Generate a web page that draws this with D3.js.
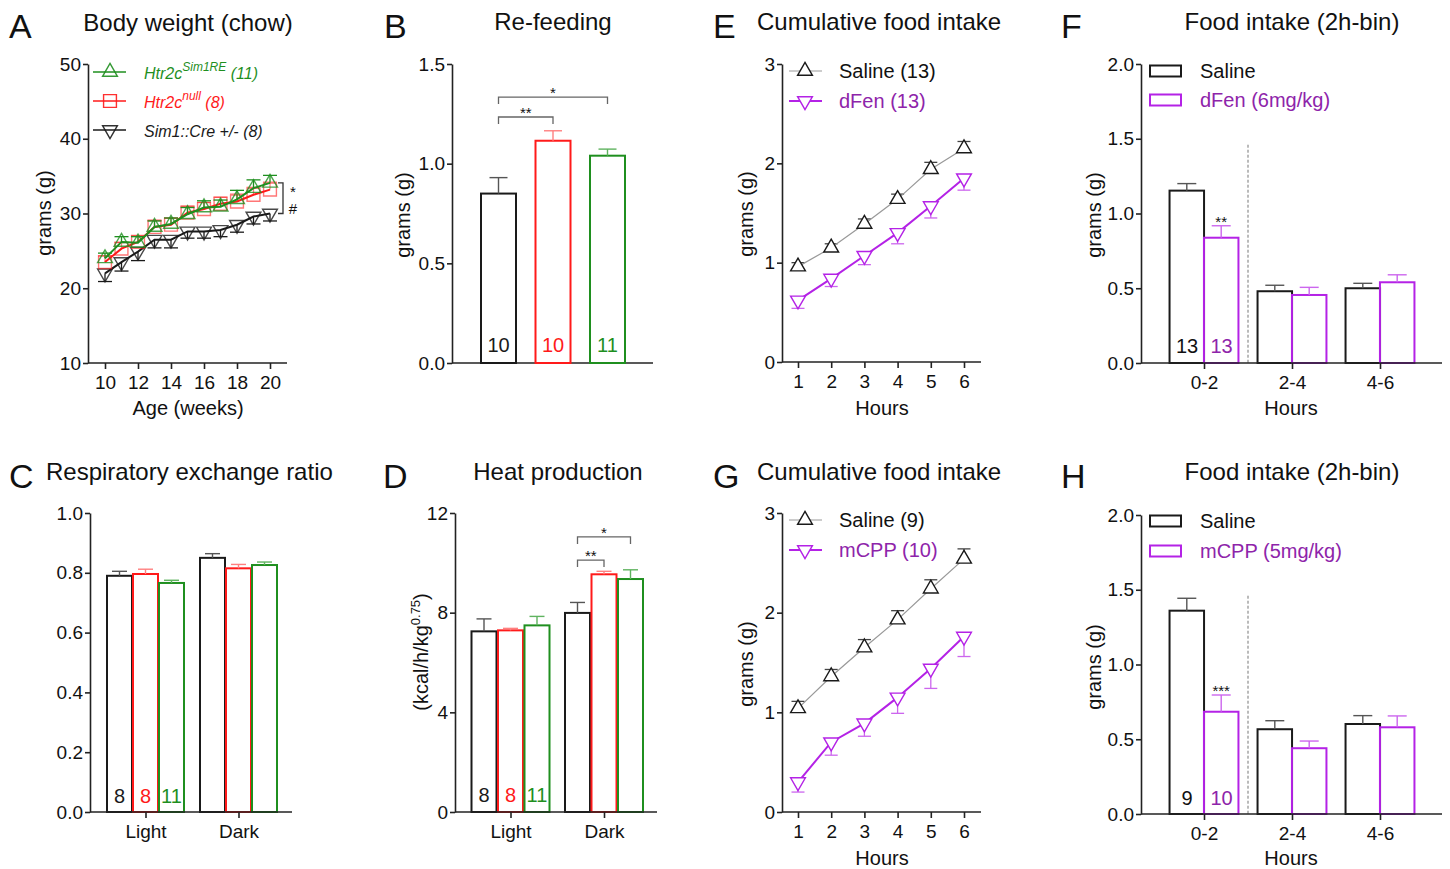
<!DOCTYPE html>
<html>
<head>
<meta charset="utf-8">
<script src="https://cdn.jsdelivr.net/npm/d3@7"></script>
<style>
  body { margin: 0; background: #fff; }
  svg { display: block; }
</style>
</head>
<body>
<svg id="fig" width="1450" height="869"></svg>
<script>
// ---- data ----
// A: body weight (g) by age
const weeks = [10, 11, 12, 13, 14, 15, 16, 17, 18, 19, 20];
const bwSim1RE = [24.0, 26.2, 26.1, 28.2, 28.6, 29.9, 30.8, 30.9, 31.9, 33.4, 34.1];
const bwSim1REErr = [0.7, 0.7, 0.8, 0.8, 0.8, 0.9, 0.9, 0.9, 1.2, 1.1, 1.0];
const bwNull = [23.5, 25.3, 26.2, 28.2, 28.5, 30.1, 30.6, 31.3, 31.6, 32.5, 33.2];
const bwNullErr = [0.8, 0.8, 0.8, 0.9, 0.9, 0.9, 0.9, 0.9, 1.0, 1.0, 1.0];
const bwCre = [22.0, 23.5, 24.9, 26.5, 26.5, 27.6, 27.6, 27.8, 28.5, 29.6, 30.0];
const bwCreErr = [1.1, 1.2, 1.2, 1.1, 1.1, 0.9, 0.9, 0.9, 1.0, 1.0, 1.0];

// B: re-feeding (g)
const genotypes = ['Sim1::Cre', 'Htr2c null', 'Htr2c Sim1RE'];
const refeedMean = [0.85, 1.115, 1.04];
const refeedErr = [0.08, 0.05, 0.033];
const refeedN = ['10', '10', '11'];

// C, D: light / dark phase
const phases = ['Light', 'Dark'];
const rerCre = [0.79, 0.85];
const rerCreErr = [0.015, 0.014];
const rerNull = [0.796, 0.815];
const rerNullErr = [0.016, 0.013];
const rerSim1RE = [0.766, 0.826];
const rerSim1REErr = [0.009, 0.01];
const heatCre = [7.25, 7.99];
const heatCreErr = [0.5, 0.42];
const heatNull = [7.29, 9.54];
const heatNullErr = [0.08, 0.12];
const heatSim1RE = [7.49, 9.35];
const heatSim1REErr = [0.36, 0.37];
const metabN = ['8', '8', '11'];

// E, G: cumulative food intake (g)
const hours = [1, 2, 3, 4, 5, 6];
const eSaline = [0.96, 1.15, 1.39, 1.64, 1.94, 2.15];
const eSalineErr = [0.04, 0.04, 0.05, 0.05, 0.07, 0.07];
const eDfen = [0.62, 0.84, 1.07, 1.30, 1.57, 1.85];
const eDfenErr = [0.08, 0.08, 0.09, 0.11, 0.12, 0.12];
const gSaline = [1.04, 1.36, 1.65, 1.93, 2.24, 2.54];
const gSalineErr = [0.07, 0.07, 0.08, 0.09, 0.09, 0.10];
const gMcpp = [0.30, 0.70, 0.89, 1.15, 1.44, 1.76];
const gMcppErr = [0.10, 0.13, 0.13, 0.16, 0.20, 0.20];

// F, H: 2h-bin food intake (g)
const bins = ['0-2', '2-4', '4-6'];
const fSaline = [1.153, 0.48, 0.50];
const fSalineErr = [0.047, 0.04, 0.033];
const fDfen = [0.838, 0.455, 0.54];
const fDfenErr = [0.08, 0.051, 0.05];
const hSaline = [1.36, 0.567, 0.602];
const hSalineErr = [0.083, 0.057, 0.056];
const hMcpp = [0.684, 0.44, 0.58];
const hMcppErr = [0.112, 0.048, 0.076];

// ---- styling ----
const FONT = '"Liberation Sans", Arial, sans-serif';
const BLACK = '#1a1a1a', RED = '#ff1a1a', GREEN = '#1f8f1f', PURPLE = '#b422e6', PURPLE_TXT = '#8e24aa';
const ERR = {black: '#555', red: '#ff8080', green: '#5fb35f', purple: '#cc66ee'};

const svg = d3.select('#fig').attr('font-family', FONT);
svg.append('rect').attr('width', 1450).attr('height', 869).attr('fill', '#fff');

function text(x, y, str, size, opt = {}) {
  return svg.append('text')
    .attr('x', x).attr('y', y)
    .attr('font-size', size)
    .attr('text-anchor', opt.anchor || 'start')
    .attr('font-style', opt.italic ? 'italic' : null)
    .attr('fill', opt.fill || '#111')
    .text(str);
}

function yTitle(x, y, str) {
  return svg.append('text')
    .attr('transform', `translate(${x},${y}) rotate(-90)`)
    .attr('text-anchor', 'middle').attr('font-size', 20).attr('fill', '#111')
    .text(str);
}

function styleAxis(g) {
  g.attr('font-family', FONT).attr('font-size', 19);
  g.selectAll('path, line').attr('stroke', '#222').attr('stroke-width', 1.6);
  g.selectAll('text').attr('fill', '#111');
}

function yAxis(scale, x, ticks, fmt) {
  const g = svg.append('g').attr('transform', `translate(${x},0)`)
    .call(d3.axisLeft(scale).tickValues(ticks).tickFormat(fmt).tickSize(5).tickSizeOuter(0).tickPadding(2));
  styleAxis(g);
}

function xAxis(scale, y, x0, x1, ticks, fmt) {
  svg.append('line').attr('x1', x0).attr('x2', x1).attr('y1', y).attr('y2', y)
    .attr('stroke', '#222').attr('stroke-width', 1.6);
  if (!ticks) return;
  const g = svg.append('g').attr('transform', `translate(0,${y})`)
    .call(d3.axisBottom(scale).tickValues(ticks).tickFormat(fmt).tickSize(6).tickPadding(7));
  g.select('.domain').remove();
  styleAxis(g);
}

const symTri = d3.symbol(d3.symbolTriangle, 95)();
const symSq = d3.symbol(d3.symbolSquare, 165)();

function marker(g, x, y, type, color, fill, opacity) {
  g.append('path')
    .attr('d', type === 'square' ? symSq : symTri)
    .attr('transform', `translate(${x},${y})` + (type === 'down' ? ' rotate(180)' : ''))
    .attr('fill', fill).attr('stroke', color).attr('stroke-width', 1.4)
    .attr('stroke-opacity', opacity || 1);
}

// line series with one-sided error bars (dir = +1 up, -1 down)
function lineSeries(sx, sy, xs, vals, errs, o) {
  const g = svg.append('g');
  vals.forEach((v, i) => {
    const x = sx(xs[i]), y0 = sy(v), y1 = sy(v + o.dir * errs[i]);
    g.append('line').attr('x1', x).attr('x2', x).attr('y1', y0).attr('y2', y1)
      .attr('stroke', o.errColor).attr('stroke-width', 1.3);
    g.append('line').attr('x1', x - o.cap / 2).attr('x2', x + o.cap / 2).attr('y1', y1).attr('y2', y1)
      .attr('stroke', o.errColor).attr('stroke-width', 1.3);
  });
  g.append('path').datum(vals)
    .attr('d', d3.line().x((d, i) => sx(xs[i])).y(d => sy(d)))
    .attr('fill', 'none').attr('stroke', o.lineColor).attr('stroke-width', o.lineWidth);
  vals.forEach((v, i) => marker(g, sx(xs[i]), sy(v), o.type, o.color, o.fill, o.opacity));
}

// open bars with upward error bars
function bars(sx, sy, cats, vals, errs, offset, width, color, errColor, cap) {
  const g = svg.append('g');
  g.selectAll('rect').data(vals).join('rect')
    .attr('x', (d, i) => sx(cats[i]) + offset - width / 2)
    .attr('y', d => sy(d))
    .attr('width', width)
    .attr('height', d => sy(0) - sy(d))
    .attr('fill', 'none').attr('stroke', color).attr('stroke-width', 2);
  g.selectAll('line.e').data(vals).join('line').attr('class', 'e')
    .attr('x1', (d, i) => sx(cats[i]) + offset).attr('x2', (d, i) => sx(cats[i]) + offset)
    .attr('y1', d => sy(d)).attr('y2', (d, i) => sy(d + errs[i]))
    .attr('stroke', errColor).attr('stroke-width', 1.4);
  g.selectAll('line.c').data(vals).join('line').attr('class', 'c')
    .attr('x1', (d, i) => sx(cats[i]) + offset - cap / 2).attr('x2', (d, i) => sx(cats[i]) + offset + cap / 2)
    .attr('y1', (d, i) => sy(d + errs[i])).attr('y2', (d, i) => sy(d + errs[i]))
    .attr('stroke', errColor).attr('stroke-width', 1.4);
}

function sigBracket(x1, x2, y, label) {
  svg.append('path').attr('d', `M${x1},${y + 7}V${y}H${x2}V${y + 7}`)
    .attr('fill', 'none').attr('stroke', '#666').attr('stroke-width', 1.3);
  text((x1 + x2) / 2, y + 1, label, 15, {anchor: 'middle'});
}

// ---------------- A ----------------
text(9, 38, 'A', 34);
text(188, 31, 'Body weight (chow)', 24, {anchor: 'middle'});
const ax = d3.scaleLinear().domain([10, 20]).range([105, 270]);
const ay = d3.scaleLinear().domain([10, 50]).range([363, 64]);
yAxis(ay, 88, [10, 20, 30, 40, 50], d3.format('d'));
xAxis(ax, 363, 88, 287, [10, 12, 14, 16, 18, 20], d3.format('d'));
text(188, 415, 'Age (weeks)', 20, {anchor: 'middle'});
yTitle(51, 213, 'grams (g)');
lineSeries(ax, ay, weeks, bwCre, bwCreErr, {dir: -1, cap: 14, errColor: BLACK, lineColor: BLACK, lineWidth: 2, type: 'down', color: BLACK, fill: 'none', opacity: 0.8});
lineSeries(ax, ay, weeks, bwNull, bwNullErr, {dir: 1, cap: 14, errColor: ERR.red, lineColor: RED, lineWidth: 2, type: 'square', color: RED, fill: 'none', opacity: 0.6});
lineSeries(ax, ay, weeks, bwSim1RE, bwSim1REErr, {dir: 1, cap: 14, errColor: GREEN, lineColor: GREEN, lineWidth: 2, type: 'up', color: GREEN, fill: 'none', opacity: 0.8});
// legend A
const legA = [
  {y: 72, color: GREEN, type: 'up', main: 'Htr2c', sup: 'Sim1RE', tail: ' (11)'},
  {y: 101, color: RED, type: 'square', main: 'Htr2c', sup: 'null', tail: ' (8)'},
  {y: 130, color: BLACK, type: 'down', main: 'Sim1::Cre +/- (8)', sup: '', tail: ''}
];
legA.forEach(l => {
  svg.append('line').attr('x1', 93).attr('x2', 126).attr('y1', l.y).attr('y2', l.y)
    .attr('stroke', l.color).attr('stroke-width', 1.6);
  marker(svg, 110, l.y, l.type, l.color, 'none', 0.9);
  const t = svg.append('text').attr('x', 144).attr('y', l.y + 7).attr('font-size', 16)
    .attr('font-style', 'italic').attr('fill', l.color);
  t.append('tspan').text(l.main);
  if (l.sup) {
    t.append('tspan').attr('dy', -8).attr('font-size', 12).text(l.sup);
    t.append('tspan').attr('dy', 8).text(l.tail);
  }
});
svg.append('path').attr('d', `M278,${ay(34.1)}H283V${ay(30)}H278`)
  .attr('fill', 'none').attr('stroke', '#333').attr('stroke-width', 1.3);
text(293, 197, '*', 15, {anchor: 'middle'});
text(293, 214, '#', 15, {anchor: 'middle'});

// ---------------- B ----------------
text(384, 38, 'B', 34);
text(553, 30, 'Re-feeding', 24, {anchor: 'middle'});
const bx = d3.scalePoint().domain(genotypes).range([498.5, 607.5]);
const by = d3.scaleLinear().domain([0, 1.5]).range([363, 64]);
yAxis(by, 452, [0, 0.5, 1.0, 1.5], d3.format('.1f'));
xAxis(bx, 363, 452, 653, null);
yTitle(410, 215, 'grams (g)');
const bColors = [BLACK, RED, GREEN];
const bErrColors = [ERR.black, ERR.red, ERR.green];
genotypes.forEach((c, i) => {
  bars(bx, by, [c], [refeedMean[i]], [refeedErr[i]], 0, 35, bColors[i], bErrColors[i], 18);
  text(bx(c), 352, refeedN[i], 20, {anchor: 'middle', fill: bColors[i]});
});
sigBracket(bx(genotypes[0]), bx(genotypes[1]), by(1.234), '**');
sigBracket(bx(genotypes[0]), bx(genotypes[2]), by(1.334), '*');

// ---------------- E ----------------
text(713, 38, 'E', 34);
text(757, 30, 'Cumulative food intake', 24);
const ex = d3.scaleLinear().domain([1, 6]).range([798, 964]);
const ey = d3.scaleLinear().domain([0, 3]).range([362, 64]);
yAxis(ey, 782, [0, 1, 2, 3], d3.format('d'));
xAxis(ex, 362, 782, 981, hours, d3.format('d'));
text(882, 415, 'Hours', 20, {anchor: 'middle'});
yTitle(753, 214, 'grams (g)');
lineSeries(ex, ey, hours, eSaline, eSalineErr, {dir: 1, cap: 13, errColor: '#444', lineColor: '#999', lineWidth: 1.2, type: 'up', color: BLACK, fill: '#fff'});
lineSeries(ex, ey, hours, eDfen, eDfenErr, {dir: -1, cap: 13, errColor: ERR.purple, lineColor: PURPLE, lineWidth: 2, type: 'down', color: PURPLE, fill: '#fff'});
function lineLegend(y, type, lineColor, lineWidth, color, label, txtColor) {
  svg.append('line').attr('x1', 789).attr('x2', 822).attr('y1', y).attr('y2', y)
    .attr('stroke', lineColor).attr('stroke-width', lineWidth);
  marker(svg, 805, y, type, color, '#fff');
  text(839, y + 7, label, 20, {fill: txtColor});
}
lineLegend(71, 'up', '#999', 1.2, BLACK, 'Saline (13)', '#111');
lineLegend(101, 'down', PURPLE, 2, PURPLE, 'dFen (13)', PURPLE_TXT);

// ---------------- F ----------------
text(1061, 38, 'F', 34);
text(1292, 30, 'Food intake (2h-bin)', 24, {anchor: 'middle'});
const fx = d3.scalePoint().domain(bins).range([1204, 1380]);
const fy = d3.scaleLinear().domain([0, 2]).range([363, 64]);
yAxis(fy, 1141, [0, 0.5, 1.0, 1.5, 2.0], d3.format('.1f'));
yTitle(1101, 215, 'grams (g)');
svg.append('line').attr('x1', (fx('0-2') + fx('2-4')) / 2).attr('x2', (fx('0-2') + fx('2-4')) / 2)
  .attr('y1', fy(1.46)).attr('y2', fy(0)).attr('stroke', '#777').attr('stroke-width', 1).attr('stroke-dasharray', '3,2');
bars(fx, fy, bins, fSaline, fSalineErr, -17.2, 34.5, BLACK, ERR.black, 19);
bars(fx, fy, bins, fDfen, fDfenErr, 17.2, 34.5, PURPLE, ERR.purple, 19);
xAxis(fx, 363, 1141, 1442, bins, d => d);
text(1291, 415, 'Hours', 20, {anchor: 'middle'});
text(fx('0-2') - 17, 353, '13', 20, {anchor: 'middle'});
text(fx('0-2') + 17.5, 353, '13', 20, {anchor: 'middle', fill: PURPLE_TXT});
text(fx('0-2') + 17.2, fy(fDfen[0] + fDfenErr[0]) + 1, '**', 15, {anchor: 'middle'});
function barLegend(y, color, label, txtColor) {
  svg.append('rect').attr('x', 1150).attr('y', y - 5.5).attr('width', 31).attr('height', 11)
    .attr('fill', 'none').attr('stroke', color).attr('stroke-width', 2);
  text(1200, y + 7, label, 20, {fill: txtColor});
}
barLegend(71, BLACK, 'Saline', '#111');
barLegend(100, PURPLE, 'dFen (6mg/kg)', PURPLE_TXT);

// ---------------- C ----------------
text(9, 488, 'C', 34);
text(46, 480, 'Respiratory exchange ratio', 24);
const cx = d3.scalePoint().domain(phases).range([145.5, 238.5]);
const cy = d3.scaleLinear().domain([0, 1]).range([812, 513]);
yAxis(cy, 90, [0, 0.2, 0.4, 0.6, 0.8, 1.0], d3.format('.1f'));
bars(cx, cy, phases, rerCre, rerCreErr, -26, 25, BLACK, ERR.black, 15);
bars(cx, cy, phases, rerNull, rerNullErr, 0, 25, RED, ERR.red, 15);
bars(cx, cy, phases, rerSim1RE, rerSim1REErr, 26, 25, GREEN, ERR.green, 15);
xAxis(cx, 812, 90, 292, phases, d => d);
[-26, 0, 26].forEach((o, i) => text(cx('Light') + o, 803, metabN[i], 20, {anchor: 'middle', fill: bColors[i]}));

// ---------------- D ----------------
text(383, 488, 'D', 34);
text(558, 480, 'Heat production', 24, {anchor: 'middle'});
const dx = d3.scalePoint().domain(phases).range([510.5, 604]);
const dy = d3.scaleLinear().domain([0, 12]).range([812, 513]);
yAxis(dy, 455, [0, 4, 8, 12], d3.format('d'));
bars(dx, dy, phases, heatCre, heatCreErr, -26.5, 25, BLACK, ERR.black, 15);
bars(dx, dy, phases, heatNull, heatNullErr, 0, 25, RED, ERR.red, 15);
bars(dx, dy, phases, heatSim1RE, heatSim1REErr, 26.5, 25, GREEN, ERR.green, 15);
xAxis(dx, 812, 455, 657, phases, d => d);
[-26.5, 0, 26.5].forEach((o, i) => text(dx('Light') + o, 802, metabN[i], 20, {anchor: 'middle', fill: bColors[i]}));
sigBracket(dx('Dark') - 26.5, dx('Dark'), dy(10.11), '**');
sigBracket(dx('Dark') - 26.5, dx('Dark') + 26.5, dy(11.04), '*');
const dLab = svg.append('text').attr('transform', 'translate(428,652) rotate(-90)')
  .attr('text-anchor', 'middle').attr('font-size', 20).attr('fill', '#111');
dLab.append('tspan').text('(kcal/h/kg');
dLab.append('tspan').attr('dy', -8).attr('font-size', 13).text('0.75');
dLab.append('tspan').attr('dy', 8).text(')');

// ---------------- G ----------------
text(713, 488, 'G', 34);
text(757, 480, 'Cumulative food intake', 24);
const gx = d3.scaleLinear().domain([1, 6]).range([798, 964]);
const gy = d3.scaleLinear().domain([0, 3]).range([812, 513]);
yAxis(gy, 782, [0, 1, 2, 3], d3.format('d'));
xAxis(gx, 812, 782, 981, hours, d3.format('d'));
text(882, 865, 'Hours', 20, {anchor: 'middle'});
yTitle(753, 664, 'grams (g)');
lineSeries(gx, gy, hours, gSaline, gSalineErr, {dir: 1, cap: 13, errColor: '#444', lineColor: '#999', lineWidth: 1.2, type: 'up', color: BLACK, fill: '#fff'});
lineSeries(gx, gy, hours, gMcpp, gMcppErr, {dir: -1, cap: 13, errColor: ERR.purple, lineColor: PURPLE, lineWidth: 2, type: 'down', color: PURPLE, fill: '#fff'});
lineLegend(520, 'up', '#999', 1.2, BLACK, 'Saline (9)', '#111');
lineLegend(550, 'down', PURPLE, 2, PURPLE, 'mCPP (10)', PURPLE_TXT);

// ---------------- H ----------------
text(1061, 488, 'H', 34);
text(1292, 480, 'Food intake (2h-bin)', 24, {anchor: 'middle'});
const hx = d3.scalePoint().domain(bins).range([1204, 1380]);
const hy = d3.scaleLinear().domain([0, 2]).range([814, 515]);
yAxis(hy, 1141, [0, 0.5, 1.0, 1.5, 2.0], d3.format('.1f'));
yTitle(1101, 667, 'grams (g)');
svg.append('line').attr('x1', (hx('0-2') + hx('2-4')) / 2).attr('x2', (hx('0-2') + hx('2-4')) / 2)
  .attr('y1', hy(1.46)).attr('y2', hy(0)).attr('stroke', '#777').attr('stroke-width', 1).attr('stroke-dasharray', '3,2');
bars(hx, hy, bins, hSaline, hSalineErr, -17.2, 34.5, BLACK, ERR.black, 19);
bars(hx, hy, bins, hMcpp, hMcppErr, 17.2, 34.5, PURPLE, ERR.purple, 19);
xAxis(hx, 814, 1141, 1442, bins, d => d);
text(1291, 865, 'Hours', 20, {anchor: 'middle'});
text(hx('0-2') - 17, 805, '9', 20, {anchor: 'middle'});
text(hx('0-2') + 17.5, 805, '10', 20, {anchor: 'middle', fill: PURPLE_TXT});
text(hx('0-2') + 17.2, hy(hMcpp[0] + hMcppErr[0]) + 1, '***', 15, {anchor: 'middle'});
barLegend(521, BLACK, 'Saline', '#111');
barLegend(551, PURPLE, 'mCPP (5mg/kg)', PURPLE_TXT);
</script>
</body>
</html>
